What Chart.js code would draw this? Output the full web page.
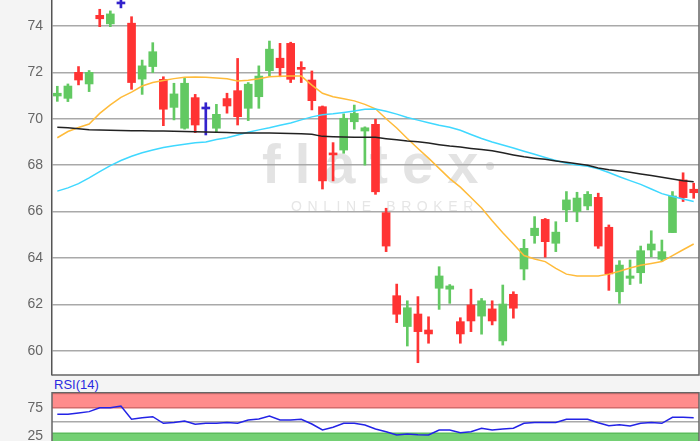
<!DOCTYPE html>
<html><head><meta charset="utf-8">
<script src="https://cdn.jsdelivr.net/npm/chart.js@4.4.1/dist/chart.umd.min.js"></script>
<style>
html,body{margin:0;padding:0;background:#f4f4f4;width:700px;height:441px;overflow:hidden;font-family:"Liberation Sans",Arial,sans-serif}
#main{position:absolute;left:0;top:0}
#rsi{position:absolute;left:0;top:392px}
#rsiLabel{position:absolute;left:54px;top:378px;color:#2a2ae0;font-size:13px;line-height:14px}
</style></head><body>
<canvas id="main" width="700" height="376"></canvas>
<div id="rsiLabel">RSI(14)</div>
<canvas id="rsi" width="700" height="60"></canvas>
<script>
const categories = Array.from({length: 61}, (_, i) => String(i + 1));
const open  = [70.98,70.88,72.00,71.50,74.46,74.09,74.95,74.12,71.71,72.25,71.70,70.49,69.59,70.91,70.42,69.59,70.87,71.21,70.45,70.95,72.07,72.61,73.25,72.17,71.67,70.52,68.50,68.65,69.87,69.47,69.76,65.95,62.37,61.04,61.58,60.89,62.69,62.65,61.25,61.97,61.49,61.80,60.42,62.43,63.52,64.96,65.66,64.63,66.07,66.00,66.24,66.61,65.32,62.54,63.12,63.36,64.34,63.94,65.09,67.36,66.96];
const high  = [71.40,71.50,72.25,72.08,74.72,74.65,75.20,74.40,72.53,73.28,71.81,71.53,71.74,71.05,70.69,70.62,71.10,72.60,71.56,72.28,73.35,73.25,73.30,72.46,72.06,70.55,68.97,70.21,70.59,69.65,69.98,66.14,62.87,62.15,62.33,61.46,63.62,62.85,61.42,62.65,62.25,62.15,62.83,62.54,64.80,65.78,65.70,65.56,66.86,66.83,66.86,66.79,65.42,63.88,63.91,64.51,65.17,64.77,66.86,67.67,67.22];
const low   = [70.75,70.74,71.46,71.17,73.97,73.97,74.78,71.27,71.05,71.99,69.70,69.95,69.55,69.40,69.30,69.44,70.24,69.73,69.92,70.45,71.84,71.81,71.56,71.56,70.38,66.97,67.32,68.51,69.55,68.00,66.74,64.27,61.21,60.20,59.48,60.32,61.78,62.04,60.32,60.82,60.71,61.11,60.24,61.40,63.05,64.63,64.03,64.27,65.56,65.56,66.07,64.41,62.60,62.04,62.85,62.90,64.05,63.84,65.09,66.43,66.57];
const close = [71.10,71.41,71.67,72.00,74.31,74.52,74.95,71.56,72.28,72.89,70.41,71.07,71.53,69.73,70.42,70.19,70.55,70.09,71.49,71.84,73.00,72.20,71.70,72.13,70.78,67.32,68.44,70.02,70.23,69.61,66.85,64.51,61.57,61.85,60.82,60.72,63.22,62.79,60.72,61.28,62.15,61.28,62.01,61.83,64.41,65.28,64.70,65.11,66.50,66.58,66.74,64.51,63.31,63.69,63.22,64.31,64.60,64.27,66.67,66.60,66.81];
const maShort = [69.18,69.45,69.62,69.77,70.23,70.60,70.92,71.15,71.41,71.56,71.65,71.73,71.79,71.80,71.79,71.76,71.72,71.63,71.66,71.72,71.81,71.83,71.84,71.84,71.45,71.10,70.95,70.86,70.77,70.62,70.43,70.00,69.60,69.15,68.72,68.30,67.86,67.42,67.05,66.60,66.15,65.60,65.08,64.60,64.10,63.95,63.84,63.55,63.30,63.22,63.22,63.22,63.30,63.42,63.56,63.68,63.76,63.84,64.10,64.35,64.60];
const maMid = [66.88,67.02,67.20,67.45,67.72,67.98,68.20,68.38,68.53,68.65,68.76,68.84,68.90,68.96,69.00,69.10,69.18,69.30,69.42,69.52,69.61,69.72,69.82,69.95,70.08,70.17,70.21,70.27,70.33,70.41,70.42,70.32,70.20,70.05,69.94,69.83,69.72,69.63,69.50,69.32,69.15,69.00,68.87,68.74,68.60,68.47,68.33,68.20,68.08,68.00,67.95,67.84,67.68,67.50,67.33,67.17,66.97,66.77,66.65,66.54,66.43];
const maLong = [69.63,69.61,69.57,69.53,69.51,69.50,69.49,69.48,69.48,69.47,69.47,69.46,69.45,69.44,69.43,69.42,69.41,69.38,69.39,69.39,69.38,69.37,69.36,69.35,69.33,69.24,69.22,69.21,69.20,69.20,69.20,69.14,69.09,69.04,69.01,68.95,68.88,68.82,68.78,68.72,68.67,68.62,68.53,68.44,68.36,68.30,68.25,68.18,68.12,68.06,67.99,67.88,67.80,67.75,67.69,67.62,67.55,67.48,67.40,67.33,67.28];
const rsi = [63.3,63.3,65.5,68,75,75,78,54.5,57,59,47.4,49,51.5,45.6,47.4,47.4,49,47.4,53.3,55,60.3,53.3,53.3,54.5,46.2,35.6,40.4,47.4,47.4,44.4,37.4,32.6,26.8,28.5,27.3,26.8,35.6,35.6,30.8,32.6,38.6,35.6,37.4,38.6,47.4,49,49,49,54.5,54.5,54.5,48.5,43.2,45,42.7,47.4,49,47.4,58,58,57.3];
const priceTicks = [60,62,64,66,68,70,72,74];
const rsiTicks = [25,75];
const rsiGrid = [50];
const rsiOverbought = [75,100];
const rsiOversold = [0,30];

const UP = '#62c962', DOWN = '#ff3333', DOJI = '#3322cc';
const candleColor = open.map((o, i) => close[i] > o ? UP : (close[i] < o ? DOWN : DOJI));
const FONT = '"Liberation Sans", Arial, sans-serif';

const mainPlugin = {
  id: 'mainDeco',
  beforeDraw(chart) {
    const {ctx, chartArea: a} = chart;
    ctx.save();
    ctx.fillStyle = '#ffffff';
    ctx.fillRect(a.left, a.top, a.right - a.left, a.bottom - a.top);
    ctx.fillStyle = '#e3e3e3';
    ctx.font = 'bold 56px ' + FONT;
    ctx.letterSpacing = '14px';
    ctx.textBaseline = 'alphabetic';
    ctx.fillText('flatex', 262, 183);
    ctx.beginPath(); ctx.arc(490, 166, 4, 0, Math.PI * 2); ctx.fill();
    ctx.fillStyle = '#e6e6e6';
    ctx.font = '14px ' + FONT;
    ctx.letterSpacing = '5.6px';
    ctx.fillText('ONLINE BROKER', 291, 211);
    ctx.restore();
  },
  afterDraw(chart) {
    const {ctx, chartArea: a} = chart;
    ctx.save();
    ctx.strokeStyle = '#666'; ctx.lineWidth = 1.5;
    ctx.beginPath();
    ctx.moveTo(a.left, a.bottom); ctx.lineTo(a.right, a.bottom); ctx.lineTo(a.right, a.top);
    ctx.stroke();
    ctx.restore();
  }
};

new Chart(document.getElementById('main'), {
  type: 'bar',
  data: {
    labels: categories,
    datasets: [
      {type: 'line', data: maLong, borderColor: '#222222', borderWidth: 1.5, pointRadius: 0, order: 0},
      {type: 'line', data: maMid, borderColor: '#3fd8ff', borderWidth: 1.5, pointRadius: 0, order: 0},
      {type: 'line', data: maShort, borderColor: '#ffbb3a', borderWidth: 1.5, pointRadius: 0, order: 0},
      {type: 'bar', data: open.map((o, i) => [o, close[i]]), backgroundColor: candleColor, barThickness: 8, minBarLength: 2, grouped: false, order: 1},
      {type: 'bar', data: low.map((l, i) => [l, high[i]]), backgroundColor: candleColor, barThickness: 2, grouped: false, order: 2}
    ]
  },
  options: {
    responsive: false, animation: false,
    layout: {padding: {top: 0, right: 1, bottom: 1, left: 0}},
    plugins: {legend: {display: false}, tooltip: {enabled: false}},
    scales: {
      x: {type: 'category', display: false, offset: true, grid: {display: false}},
      y: {
        min: 58.95, max: 75.12,
        afterBuildTicks: s => { s.ticks = priceTicks.map(v => ({value: v})); },
        afterFit: s => { s.width = 52; s.paddingTop = 0; s.paddingBottom = 0; },
        grid: {color: '#a9a9a9', lineWidth: 1.5, drawTicks: false},
        border: {display: true, color: '#555', width: 1.5},
        ticks: {color: '#666', font: {family: FONT, size: 14}, padding: 9}
      }
    }
  },
  plugins: [mainPlugin]
});

const rsiPlugin = {
  id: 'rsiDeco',
  beforeDraw(chart) {
    const {ctx, chartArea: a, scales: {y}} = chart;
    ctx.save();
    ctx.fillStyle = '#ffffff';
    ctx.fillRect(a.left, a.top, a.right - a.left, a.bottom - a.top);
    const yOB = y.getPixelForValue(rsiOverbought[0]);
    ctx.fillStyle = '#ff8c8c';
    ctx.fillRect(a.left, a.top, a.right - a.left, yOB - a.top);
    const yOS = y.getPixelForValue(rsiOversold[1]);
    ctx.fillStyle = '#74d074';
    ctx.fillRect(a.left, yOS, a.right - a.left, a.bottom - yOS);
    ctx.lineWidth = 1.5;
    ctx.strokeStyle = '#d46b6b';
    ctx.beginPath(); ctx.moveTo(a.left, yOB); ctx.lineTo(a.right, yOB);
    const yTop = y.getPixelForValue(rsiOverbought[1]);
    ctx.moveTo(a.left, yTop); ctx.lineTo(a.right, yTop); ctx.stroke();
    ctx.strokeStyle = '#5cbc5c';
    ctx.beginPath(); ctx.moveTo(a.left, yOS); ctx.lineTo(a.right, yOS); ctx.stroke();
    ctx.strokeStyle = '#a9a9a9';
    rsiGrid.forEach(v => { const yy = y.getPixelForValue(v); ctx.beginPath(); ctx.moveTo(a.left, yy); ctx.lineTo(a.right, yy); ctx.stroke(); });
    ctx.restore();
  },
  afterDraw(chart) {
    const {ctx, chartArea: a} = chart;
    ctx.save();
    ctx.strokeStyle = '#666'; ctx.lineWidth = 1.5;
    ctx.beginPath();
    ctx.moveTo(a.left, a.bottom); ctx.lineTo(a.left, a.top + 0.5); ctx.lineTo(a.right, a.top + 0.5); ctx.lineTo(a.right, a.bottom);
    ctx.stroke();
    ctx.restore();
  }
};

new Chart(document.getElementById('rsi'), {
  type: 'line',
  data: {
    labels: categories,
    datasets: [{data: rsi, borderColor: '#2323e6', borderWidth: 1.5, pointRadius: 0}]
  },
  options: {
    responsive: false, animation: false,
    layout: {padding: {top: 0, right: 1, bottom: 0, left: 0}},
    plugins: {legend: {display: false}, tooltip: {enabled: false}},
    scales: {
      x: {type: 'category', display: false, offset: true, grid: {display: false}},
      y: {
        min: -3.3, max: 102.7,
        afterBuildTicks: s => { s.ticks = rsiTicks.map(v => ({value: v})); },
        afterFit: s => { s.width = 52; s.paddingTop = 0; s.paddingBottom = 0; },
        grid: {display: false, drawTicks: false},
        border: {display: false},
        ticks: {color: '#666', font: {family: FONT, size: 14}, padding: 9}
      }
    }
  },
  plugins: [rsiPlugin]
});
</script>
</body></html>
